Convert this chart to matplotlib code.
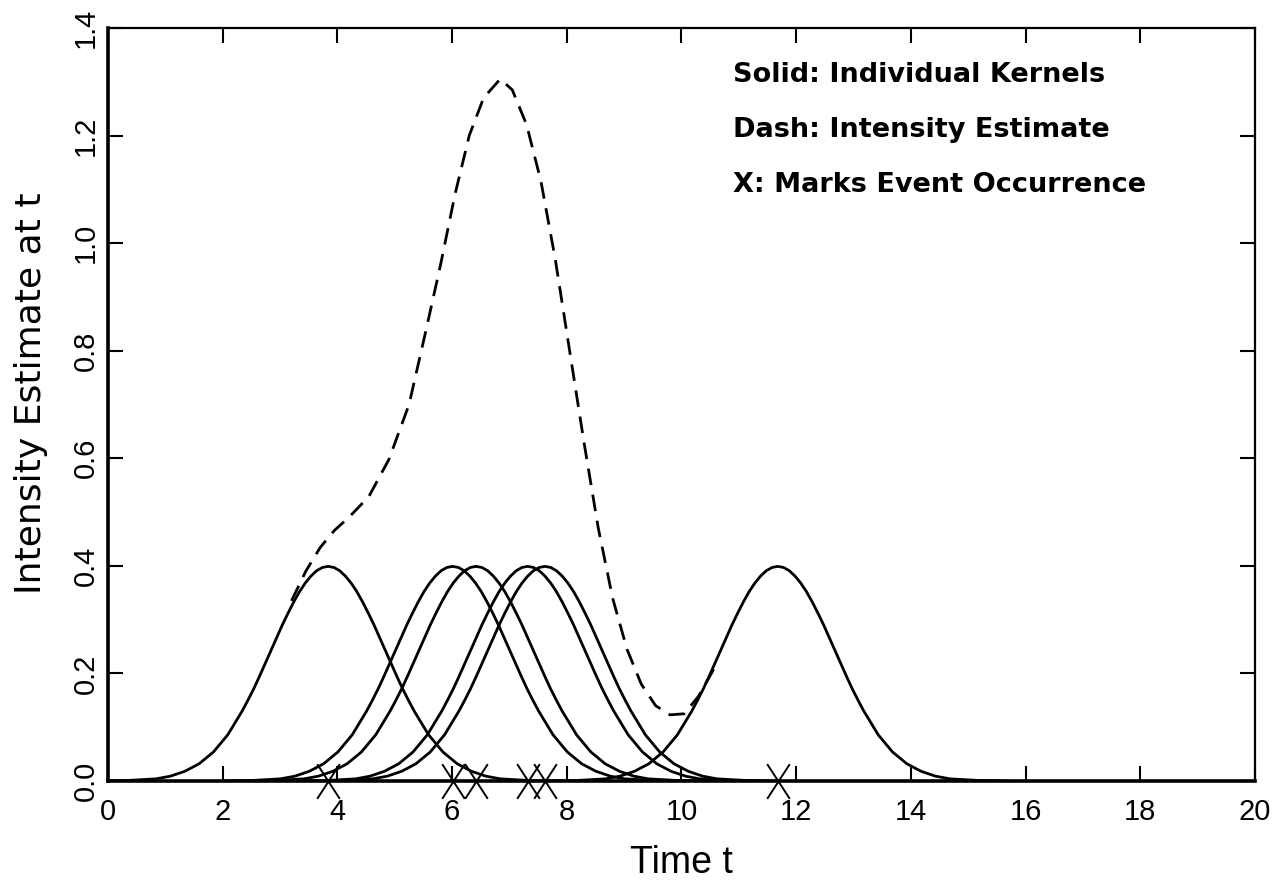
import numpy as np
import matplotlib.pyplot as plt
from matplotlib.path import Path

plt.rcParams["font.family"] = ["Liberation Sans", "DejaVu Sans"]
plt.rcParams["lines.scale_dashes"] = False

# event times (X marks)
event_times = [3.84, 6.01, 6.42, 7.32, 7.62, 11.68]

# one kernel: distance from its event -> height
kernel_offset = [0.0, 0.1, 0.2, 0.3, 0.4, 0.5, 0.6, 0.7, 0.8, 0.9, 1.0,
                 1.1, 1.2, 1.3, 1.4, 1.5, 1.75, 2.0, 2.25, 2.5, 2.75, 3.0,
                 3.5, 4.0]
kernel_height = [0.399, 0.397, 0.391, 0.381, 0.368, 0.352, 0.333, 0.312,
                 0.290, 0.266, 0.242, 0.218, 0.194, 0.171, 0.150, 0.130,
                 0.086, 0.054, 0.032, 0.018, 0.009, 0.004, 0.001, 0.0001]

# dashed intensity estimate, read point by point
est_t = [3.2, 3.45, 3.7, 3.95, 4.2, 4.55, 4.9, 5.25, 5.55, 5.8, 6.05, 6.3,
         6.55, 6.84, 7.05, 7.3, 7.55, 7.8, 8.05, 8.3, 8.55, 8.8, 9.05, 9.3,
         9.55, 9.8, 10.05, 10.3, 10.6]
est_y = [0.335, 0.39, 0.434, 0.466, 0.49, 0.529, 0.598, 0.70, 0.84, 0.96,
         1.09, 1.20, 1.27, 1.305, 1.285, 1.22, 1.115, 0.97, 0.80, 0.63,
         0.47, 0.34, 0.245, 0.18, 0.14, 0.123, 0.125, 0.158, 0.215]

legend_lines = ["Solid: Individual Kernels",
                "Dash: Intensity Estimate",
                "X: Marks Event Occurrence"]
legend_y = [1.30, 1.197, 1.095]

# profile mirrored to both sides of the event
prof_x = np.array([-o for o in kernel_offset[::-1]] + kernel_offset[1:])
prof_y = np.array(kernel_height[::-1] + kernel_height[1:])

xmark = Path([(-0.65, -1.0), (0.65, 1.0), (-0.65, 1.0), (0.65, -1.0)],
             [Path.MOVETO, Path.LINETO, Path.MOVETO, Path.LINETO])

fig = plt.figure(figsize=(12.79, 8.88), dpi=100)
ax = fig.add_axes([0.0844, 0.1205, 0.8968, 0.848])

for et in event_times:
    ax.plot(prof_x + et, prof_y, color="black", lw=2.0, solid_joinstyle="round")

ax.plot(est_t, est_y, color="black", lw=2.0, dashes=(12, 7))

ax.plot(event_times, [0] * len(event_times), linestyle="none", marker=xmark,
        markersize=25, markeredgewidth=1.4, markeredgecolor="black",
        markerfacecolor="none", clip_on=False)

ax.set_xlim(0, 20)
ax.set_ylim(0, 1.4)
ax.set_xticks(np.arange(0, 21, 2))
ax.set_yticks(np.round(np.arange(0, 1.41, 0.2), 1))
ax.set_yticklabels([f"{v:.1f}" for v in np.arange(0, 1.41, 0.2)],
                   rotation=90, va="center")
ax.tick_params(direction="in", length=11, width=1.5, labelsize=21,
               top=True, right=True)
ax.tick_params(axis="x", pad=12)
ax.tick_params(axis="y", pad=6)
for s in ax.spines.values():
    s.set_linewidth(1.6)
ax.spines["left"].set_linewidth(2.6)
ax.spines["bottom"].set_linewidth(2.6)

ax.set_xlabel("Time t", fontsize=27, labelpad=14)
ax.set_ylabel("Intensity Estimate at t", fontsize=26, family="DejaVu Sans",
              labelpad=10)
ax.yaxis.set_label_coords(-0.052, 0.515)

for s, yv in zip(legend_lines, legend_y):
    ax.text(10.9, yv, s, fontsize=19.5, fontweight="bold",
            family="DejaVu Sans", va="baseline", ha="left")

fig.savefig("out.png", dpi=100)
